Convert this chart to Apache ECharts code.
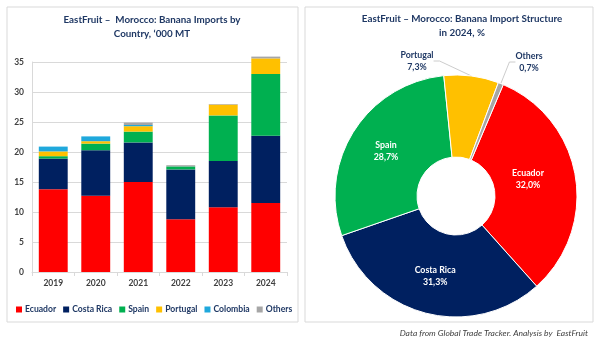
<!DOCTYPE html>
<html><head><meta charset="utf-8">
<script src="https://cdn.jsdelivr.net/npm/echarts@6/dist/echarts.min.js"></script>
<style>html,body{margin:0;padding:0;background:#fff}#c{width:600px;height:338px}</style>
</head><body><div id="c"></div>
<script>
var years = ['2019','2020','2021','2022','2023','2024'];
var ecuador   = [13.8, 12.7, 15.0, 8.8, 10.8, 11.5];
var costaRica = [5.1, 7.6, 6.6, 8.3, 7.7, 11.2];
var spain     = [0.4, 1.1, 1.8, 0.5, 7.6, 10.3];
var portugal  = [0.8, 0.4, 0.9, 0, 1.8, 2.6];
var colombia  = [0.8, 0.8, 0.2, 0, 0, 0];
var others    = [0, 0, 0.4, 0.2, 0.1, 0.3];
var seriesNames = ['Ecuador','Costa Rica','Spain','Portugal','Colombia','Others'];
var yTicks = [0,5,10,15,20,25,30,35];

var pieNames  = ['Ecuador','Costa Rica','Spain','Portugal','Others'];
var pieShares = [32.0, 31.3, 28.7, 7.3, 0.7];

var colors = {'Ecuador':'#FF0000','Costa Rica':'#002060','Spain':'#00B050','Portugal':'#FFC000','Colombia':'#1FA8DC','Others':'#A6A6A6'};
var FONT = 'Lato';
var NAVY = '#1F3864';

var barData = [ecuador, costaRica, spain, portugal, colombia, others];
var series = seriesNames.map(function(n, i){
  return {name:n, type:'bar', stack:'s', data:barData[i], barCategoryGap:'32%', clip:false,
    itemStyle:{color:colors[n]}, emphasis:{disabled:true}};
});

function fmt(v){ return v.toFixed(1).replace('.', ','); }

series.push({
  type:'pie', center:[456,196], radius:[39,121], startAngle:67, clockwise:true,
  avoidLabelOverlap:false,
  itemStyle:{borderColor:'#fff', borderWidth:1},
  emphasis:{disabled:true},
  label:{position:'inside', color:'#fff', fontFamily:FONT, fontWeight:'bold', fontSize:8.8, lineHeight:12,
    formatter:function(p){ return p.name + '\n' + fmt(p.value) + '%'; }},
  labelLine:{show:false},
  labelLayout:function(p){
    if (p.dataIndex === 3) return {x:417, y:61, align:'center', verticalAlign:'middle'};
    if (p.dataIndex === 4) return {x:529, y:62, align:'center', verticalAlign:'middle'};
    if (p.dataIndex === 0) return {x:528, y:179, align:'center', verticalAlign:'middle'};
    return {};
  },
  data: pieNames.map(function(n, i){
    var d = {name:n, value:pieShares[i], itemStyle:{color:colors[n]}};
    if (i >= 3) {
      d.label = {position:'outside', color:NAVY};
      d.labelLine = {show:true, length:8, length2:6, lineStyle:{color:'#bfbfbf', width:0.8}};
    }
    return d;
  })
});

var chart = echarts.init(document.getElementById('c'), null, {renderer:'canvas'});
chart.setOption({
  animation:false,
  textStyle:{fontFamily:FONT},
  title:[
    {text:'EastFruit –  Morocco: Banana Imports by\nCountry, \u2018000 MT', left:147, top:8, textAlign:'center',
      textStyle:{fontFamily:FONT, fontWeight:'bold', fontSize:9.8, color:NAVY, lineHeight:14}},
    {text:'EastFruit – Morocco: Banana Import Structure\nin 2024, %', left:457, top:7, textAlign:'center',
      textStyle:{fontFamily:FONT, fontWeight:'bold', fontSize:9.8, color:NAVY, lineHeight:14}},
    {text:'Data from Global Trade Tracker. Analysis by  EastFruit', right:7, top:324,
      textStyle:{fontFamily:FONT, fontStyle:'italic', fontWeight:'normal', fontSize:8.5, color:'#404040'}}
  ],
  graphic:[
    {type:'rect', shape:{x:7, y:7, width:291, height:315}, style:{fill:'none', stroke:'#d9d9d9', lineWidth:1}, silent:true, z:-1},
    {type:'rect', shape:{x:305, y:7, width:288, height:315}, style:{fill:'none', stroke:'#d9d9d9', lineWidth:1}, silent:true, z:-1}
  ],
  legend:{data:seriesNames, left:11, top:300, icon:'rect', itemWidth:6, itemHeight:6, itemGap:7,
    textStyle:{fontFamily:FONT, fontWeight:'bold', fontSize:8.6, color:NAVY, padding:[0,0,0,-2]}},
  grid:{left:32, right:313, top:62, bottom:66},
  xAxis:{type:'category', data:years,
    axisLine:{lineStyle:{color:'#d9d9d9'}},
    axisTick:{show:true, length:4, lineStyle:{color:'#d9d9d9'}},
    axisLabel:{fontFamily:FONT, fontWeight:'bold', fontSize:8.5, color:'#404040', margin:7}},
  yAxis:{type:'value', min:yTicks[0], max:yTicks[yTicks.length-1], interval:5,
    axisLine:{show:true, lineStyle:{color:'#d9d9d9'}},
    axisTick:{show:false},
    splitLine:{lineStyle:{color:'#d9d9d9'}},
    axisLabel:{fontFamily:FONT, fontWeight:'bold', fontSize:8.5, color:'#404040', margin:8}},
  series:series
});
</script></body></html>
